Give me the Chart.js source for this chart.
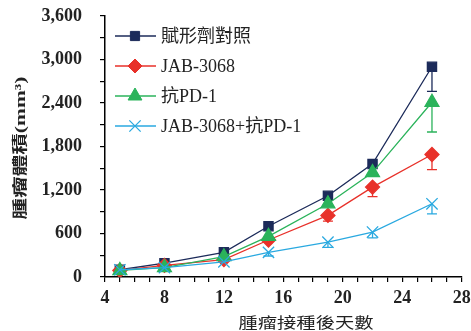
<!DOCTYPE html>
<html>
<head>
<meta charset="utf-8">
<script src="https://cdn.jsdelivr.net/npm/chart.js@4.4.0/dist/chart.umd.min.js"></script>
<style>
  html, body { margin: 0; padding: 0; background: #fff; }
  #wrap { width: 471px; height: 331px; }
</style>
</head>
<body>
<div id="wrap"><canvas id="tumorChart"></canvas></div>
<script>
// Days after tumor inoculation
const days = [5, 8, 12, 15, 19, 22, 26];
const seriesNames = ["賦形劑對照", "JAB-3068", "抗PD-1", "JAB-3068+抗PD-1"];

// Mean tumor volume (mm3)
const vehicleVol = [100, 190, 340, 700, 1120, 1560, 2900];
const jabVol = [90, 160, 240, 510, 850, 1240, 1690];
const pd1Vol = [90, 130, 280, 560, 1010, 1440, 2410];
const comboVol = [100, 130, 210, 340, 480, 620, 1010];

// Lower error bars (mm3)
const vehicleErr = [0, 0, 0, 0, 0, 0, 340];
const jabErr = [0, 0, 0, 0, 80, 130, 210];
const pd1Err = [0, 0, 0, 0, 0, 0, 410];
const comboErr = [0, 0, 0, 50, 70, 80, 140];

const yTicks = [0, 600, 1200, 1800, 2400, 3000, 3600];
const xTicks = [4, 8, 12, 16, 20, 24, 28];

const xTitle = "腫瘤接種後天數";
const yTitle = "腫瘤體積(mm³)";

const colors = ["#1c2b5a", "#e8312a", "#2bb35b", "#2aa9e0"];

document.addEventListener("DOMContentLoaded", function () {
  const ctx = document.getElementById("tumorChart").getContext("2d");
  const serifFont = '"Liberation Serif", "Noto Sans CJK TC", serif';

  function points(values) {
    return days.map((d, i) => ({ x: d, y: values[i] }));
  }

  const errors = [vehicleErr, jabErr, pd1Err, comboErr];

  // Draws the lower error bars with small caps
  const errorBars = {
    id: "errorBars",
    beforeDatasetsDraw(chart) {
      const c = chart.ctx;
      const yScale = chart.scales.y;
      chart.data.datasets.forEach((ds, i) => {
        const meta = chart.getDatasetMeta(i);
        c.save();
        c.strokeStyle = ds.borderColor;
        c.lineWidth = 1.3;
        meta.data.forEach((pt, j) => {
          const err = errors[i][j];
          if (!err) return;
          const yEnd = yScale.getPixelForValue(ds.data[j].y - err);
          c.beginPath();
          c.moveTo(pt.x, pt.y);
          c.lineTo(pt.x, yEnd);
          c.moveTo(pt.x - 5, yEnd);
          c.lineTo(pt.x + 5, yEnd);
          c.stroke();
        });
        c.restore();
      });
    },
  };

  // Legend inside the plot, line + marker style
  const innerLegend = {
    id: "innerLegend",
    afterDraw(chart) {
      const c = chart.ctx;
      const area = chart.chartArea;
      const x0 = area.left + 10;
      chart.data.datasets.forEach((ds, i) => {
        const y = area.top + 20 + i * 30;
        c.save();
        c.strokeStyle = ds.borderColor;
        c.lineWidth = 1.3;
        c.beginPath();
        c.moveTo(x0, y);
        c.lineTo(x0 + 41, y);
        c.stroke();
        c.fillStyle = ds.backgroundColor;
        c.strokeStyle = ds.borderColor;
        c.lineWidth = ds.pointBorderWidth || 1;
        Chart.helpers.drawPoint(c, {
          pointStyle: ds.pointStyle,
          radius: ds.pointRadius,
          borderWidth: ds.pointBorderWidth || 1,
          rotation: 0,
        }, x0 + 20, y);
        c.fillStyle = "#222";
        c.font = "18px " + serifFont;
        c.textBaseline = "middle";
        c.textAlign = "left";
        c.fillText(ds.label, x0 + 46, y + 1);
        c.restore();
      });
    },
  };

  // Axis titles, stretched a bit wider like the original
  const axisTitles = {
    id: "axisTitles",
    afterDraw(chart) {
      const c = chart.ctx;
      c.save();
      c.fillStyle = "#222";
      c.textAlign = "center";
      c.textBaseline = "middle";
      c.font = '15px "Noto Sans CJK TC", sans-serif';
      let w = c.measureText(xTitle).width;
      c.translate(306, 322);
      c.scale(135 / w, 1);
      c.fillText(xTitle, 0, 0);
      c.restore();

      c.save();
      c.fillStyle = "#222";
      c.textAlign = "center";
      c.textBaseline = "middle";
      c.font = "bold 15px " + serifFont;
      w = c.measureText(yTitle).width;
      c.translate(21, 148);
      c.rotate(-Math.PI / 2);
      c.scale(143 / w, 1);
      c.fillText(yTitle, 0, 0);
      c.restore();
    },
  };

  new Chart(ctx, {
    type: "line",
    data: {
      datasets: [
        {
          label: seriesNames[0],
          data: points(vehicleVol),
          borderColor: colors[0],
          backgroundColor: colors[0],
          pointStyle: "rect",
          pointRadius: 6.5,
          borderWidth: 1.3,
          order: 3,
        },
        {
          label: seriesNames[1],
          data: points(jabVol),
          borderColor: colors[1],
          backgroundColor: colors[1],
          pointStyle: "rectRot",
          pointRadius: 7,
          borderWidth: 1.3,
          order: 2,
        },
        {
          label: seriesNames[2],
          data: points(pd1Vol),
          borderColor: colors[2],
          backgroundColor: colors[2],
          pointStyle: "triangle",
          pointRadius: 8,
          borderWidth: 1.3,
          order: 1,
        },
        {
          label: seriesNames[3],
          data: points(comboVol),
          borderColor: colors[3],
          backgroundColor: colors[3],
          pointStyle: "crossRot",
          pointRadius: 8,
          pointBorderWidth: 1.3,
          borderWidth: 1.3,
          order: 0,
        },
      ],
    },
    options: {
      responsive: true,
      maintainAspectRatio: false,
      animation: false,
      layout: { padding: { left: 0, top: 16, right: 9, bottom: 0 } },
      plugins: {
        legend: { display: false },
        tooltip: { enabled: false },
      },
      scales: {
        x: {
          type: "linear",
          min: xTicks[0],
          max: xTicks[xTicks.length - 1],
          afterFit: (scale) => {
            scale.height = 54;
            scale.paddingLeft = 0;
            scale.paddingRight = 0;
          },
          ticks: {
            stepSize: 1,
            autoSkip: false,
            maxRotation: 0,
            padding: 6,
            color: "#222",
            font: { family: serifFont, size: 18, weight: "bold" },
            callback: (v) => (xTicks.includes(v) ? String(v) : ""),
          },
          grid: {
            drawOnChartArea: false,
            drawTicks: true,
            tickLength: 5,
            color: "#000",
            tickColor: "#000",
            lineWidth: 1.2,
          },
          border: { display: true, color: "#000", width: 1.5 },
        },
        y: {
          type: "linear",
          min: yTicks[0],
          max: yTicks[yTicks.length - 1],
          afterFit: (scale) => {
            scale.width = 105;
            scale.paddingTop = 0;
            scale.paddingBottom = 0;
          },
          ticks: {
            stepSize: 300,
            autoSkip: false,
            padding: 18,
            color: "#222",
            font: { family: serifFont, size: 18, weight: "bold" },
            callback: (v) => (yTicks.includes(v) ? v.toLocaleString("en-US") : ""),
          },
          grid: {
            drawOnChartArea: false,
            drawTicks: true,
            tickLength: 5,
            color: "#000",
            tickColor: "#000",
            lineWidth: 1.2,
          },
          border: { display: true, color: "#000", width: 1.5 },
        },
      },
    },
    plugins: [errorBars, innerLegend, axisTitles],
  });
});
</script>
</body>
</html>
